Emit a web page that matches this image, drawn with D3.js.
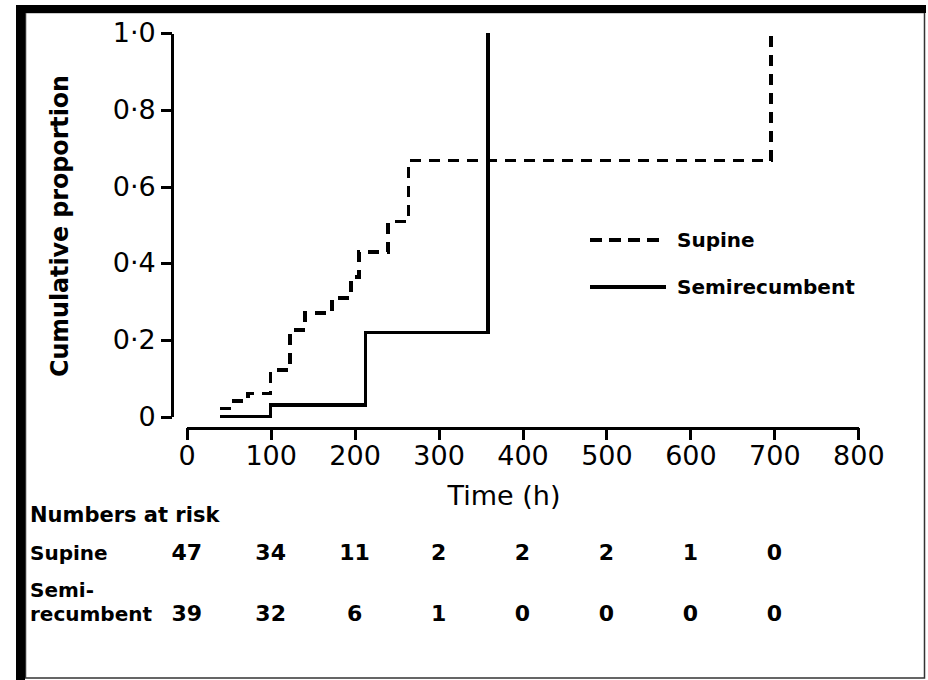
<!DOCTYPE html>
<html>
<head>
<meta charset="UTF-8" />
<title>Cumulative proportion: supine vs semirecumbent</title>
<script src="https://d3js.org/d3.v7.min.js"></script>
<style>
  body { margin: 0; background: #fff; }
  svg text { font-family: "DejaVu Sans", sans-serif; fill: #000; }
</style>
</head>
<body>
<svg id="chart"></svg>
<script>
// step curves (time in h, cumulative proportion)
const supineTimes = [40, 51, 73, 100, 123, 141, 173, 196, 205, 240, 264, 696]
const supineProps = [0.022, 0.041, 0.061, 0.122, 0.226, 0.27, 0.31, 0.365, 0.429, 0.509, 0.668, 1.0]
const semiTimes = [40, 100, 213, 359]
const semiProps = [0, 0.03, 0.219, 1.0]

// numbers at risk
const riskTimes = [0, 100, 200, 300, 400, 500, 600, 700]
const supineRisk = [47, 34, 11, 2, 2, 2, 1, 0]
const semiRisk = [39, 32, 6, 1, 0, 0, 0, 0]

const xTicks = [0, 100, 200, 300, 400, 500, 600, 700, 800]
const yTicks = [0, 0.2, 0.4, 0.6, 0.8, 1.0]

const width = 928, height = 680

const svg = d3.select('#chart').attr('width', width).attr('height', height)

// frame
svg.append('rect').attr('x', 0).attr('y', 0).attr('width', width).attr('height', height).attr('fill', '#fff')
svg.append('rect').attr('x', 25.5).attr('y', 12.5).attr('width', 899).attr('height', 665.5)
  .attr('fill', 'none').attr('stroke', '#333').attr('stroke-width', 1.5)
svg.append('rect').attr('x', 16).attr('y', 5).attr('width', 910).attr('height', 8).attr('fill', '#000')
svg.append('rect').attr('x', 16).attr('y', 5).attr('width', 9).attr('height', 675).attr('fill', '#000')

const x = d3.scaleLinear().domain([0, 800]).range([186.7, 858.3])
const y = d3.scaleLinear().domain([0, 1]).range([416.7, 33.3])

const fmtY = d => d === 0 ? '0' : d3.format('.1f')(d).replace('.', '·')

const yAxis = svg.append('g')
  .attr('transform', 'translate(171.7,0)')
  .call(d3.axisLeft(y).tickValues(yTicks).tickSize(11).tickSizeOuter(0).tickPadding(5).tickFormat(fmtY))
const xAxis = svg.append('g')
  .attr('transform', 'translate(0,428)')
  .call(d3.axisBottom(x).tickValues(xTicks).tickSize(12).tickSizeOuter(0).tickPadding(6).tickFormat(d3.format('d')))

;[yAxis, xAxis].forEach(a => {
  a.attr('font-family', null).attr('font-size', null)
  a.selectAll('path, line').attr('stroke', '#000').attr('stroke-width', 3).attr('shape-rendering', 'crispEdges')
  a.selectAll('text').attr('font-size', 27).attr('fill', '#000')
})

// axis titles
svg.append('text')
  .attr('transform', 'translate(68,226) rotate(-90)')
  .attr('text-anchor', 'middle')
  .attr('font-size', 25).attr('font-weight', 'bold')
  .attr('textLength', 302).attr('lengthAdjust', 'spacingAndGlyphs')
  .text('Cumulative proportion')
svg.append('text')
  .attr('x', 504).attr('y', 505)
  .attr('text-anchor', 'middle')
  .attr('font-size', 27)
  .text('Time (h)')

// curves
const line = d3.line().x((d, i) => x(d[0])).y(d => y(d[1])).curve(d3.curveStepAfter)
const series = [
  { name: 'Supine', pts: d3.zip(supineTimes, supineProps), dash: '11,8', ly: 240 },
  { name: 'Semirecumbent', pts: d3.zip(semiTimes, semiProps), dash: null, ly: 287 }
]

svg.append('g').selectAll('path')
  .data(series)
  .join('path')
  .attr('d', d => line(d.pts))
  .attr('fill', 'none')
  .attr('stroke', '#000')
  .attr('stroke-width', 3.5)
  .attr('stroke-dasharray', d => d.dash)
  .attr('shape-rendering', 'crispEdges')

// legend
const lg = svg.append('g').selectAll('g').data(series).join('g')
lg.append('line')
  .attr('x1', 590).attr('x2', d => d.dash ? 660 : 666)
  .attr('y1', d => d.ly).attr('y2', d => d.ly)
  .attr('stroke', '#000').attr('stroke-width', 4)
  .attr('stroke-dasharray', d => d.dash ? '12,7' : null)
  .attr('shape-rendering', 'crispEdges')
lg.append('text')
  .attr('x', 677).attr('y', d => d.ly).attr('dy', '0.36em')
  .attr('font-size', 20).attr('font-weight', 'bold')
  .text(d => d.name)

// numbers at risk table
const tbl = svg.append('g').attr('font-weight', 'bold')
tbl.append('text').attr('x', 30).attr('y', 522).attr('font-size', 21).text('Numbers at risk')
tbl.append('text').attr('x', 30).attr('y', 560).attr('font-size', 20).text('Supine')
tbl.append('text').attr('x', 30).attr('y', 597).attr('font-size', 20).text('Semi-')
tbl.append('text').attr('x', 30).attr('y', 621).attr('font-size', 20).text('recumbent')

const rows = [{ vals: supineRisk, y: 560 }, { vals: semiRisk, y: 621 }]
rows.forEach(r => {
  tbl.append('g').selectAll('text')
    .data(d3.zip(riskTimes, r.vals))
    .join('text')
    .attr('x', d => x(d[0]))
    .attr('y', r.y)
    .attr('text-anchor', 'middle')
    .attr('font-size', 22)
    .text(d => d[1])
})
</script>
</body>
</html>
